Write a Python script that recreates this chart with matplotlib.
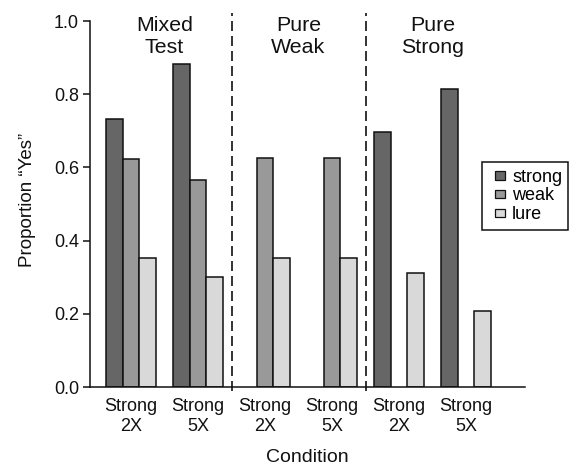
import numpy as np
import matplotlib
matplotlib.use("Agg")
import matplotlib.pyplot as plt
from matplotlib.patches import Rectangle
from matplotlib.container import BarContainer
from matplotlib.legend_handler import HandlerPatch, update_from_first_child

plt.rcParams['font.family'] = ['Liberation Sans', 'DejaVu Sans']

conditions = ["Strong\n2X", "Strong\n5X", "Strong\n2X", "Strong\n5X", "Strong\n2X", "Strong\n5X"]
groups = ["Mixed\nTest", "Pure\nWeak", "Pure\nStrong"]
series_names = ["strong", "weak", "lure"]
strong = [0.731, 0.882, np.nan, np.nan, 0.696, 0.813]
weak = [0.624, 0.567, 0.627, 0.627, np.nan, np.nan]
lure = [0.352, 0.300, 0.353, 0.353, 0.312, 0.208]
colors = ["#666666", "#999999", "#d9d9d9"]

ink = "#111111"
fig = plt.figure(figsize=(5.76, 4.66), dpi=100)
ax = fig.add_axes([90/576, 79/466, 435/576, 374/466])

x = np.arange(len(conditions))
w = 0.25
for i, (vals, name, c) in enumerate(zip([strong, weak, lure], series_names, colors)):
    ax.bar(x + (i - 1) * w, vals, width=w, color=c, edgecolor=ink,
           linewidth=1.1, label=name)

ax.set_xlim(-0.612, 5.88)
ax.set_ylim(0, 1.022)

for xv in [1.5, 3.5]:
    ax.plot([xv, xv], [-0.01, 1.022], color=ink, lw=1.2,
            linestyle=(0, (6, 3)), clip_on=False)

for gi, g in enumerate(groups):
    ax.text(2 * gi + 0.5, 0.957, g, ha="center", va="center", fontsize=15.4,
            linespacing=1.22, color=ink)

ax.spines["top"].set_visible(False)
ax.spines["right"].set_visible(False)
ax.spines["left"].set_bounds(0, 1.0)
for s in ["left", "bottom"]:
    ax.spines[s].set_linewidth(1.1)
    ax.spines[s].set_color(ink)

ax.set_yticks([0, 0.2, 0.4, 0.6, 0.8, 1.0])
ax.set_yticklabels(["0.0", "0.2", "0.4", "0.6", "0.8", "1.0"])
ax.tick_params(axis="y", length=5, width=1.1, pad=3, labelsize=13,
               colors=ink)
ax.set_xticks(x)
ax.set_xticklabels(conditions, linespacing=1.2)
ax.tick_params(axis="x", length=0, pad=8, labelsize=13, colors=ink)

ax.set_ylabel("Proportion \u201cYes\u201d", fontsize=13.5, color=ink, labelpad=13)
ax.set_xlabel("Condition", fontsize=14, color=ink, labelpad=10)


def small_square(legend, orig_handle, xdescent, ydescent, width, height, fontsize):
    sq_w = 10.0 * 72 / fig.dpi
    sq_h = 8.5 * 72 / fig.dpi
    return Rectangle((width - xdescent - sq_w, -ydescent + (height - sq_h) / 2),
                     sq_w, sq_h)


leg = ax.legend(loc="upper left", bbox_to_anchor=(481.7/576, 1 - 162.3/466),
                bbox_transform=fig.transFigure, borderaxespad=0,
                fontsize=13, handlelength=0.95, handleheight=0.6,
                handletextpad=0.38, labelspacing=0.1, borderpad=0.35,
                fancybox=False, framealpha=1, edgecolor=ink,
                handler_map={BarContainer: HandlerPatch(
                    patch_func=small_square, update_func=update_from_first_child)})
leg.get_frame().set_linewidth(1.1)
for p in leg.get_patches():
    p.set_linewidth(0.9)

fig.savefig("out.png", dpi=100)
